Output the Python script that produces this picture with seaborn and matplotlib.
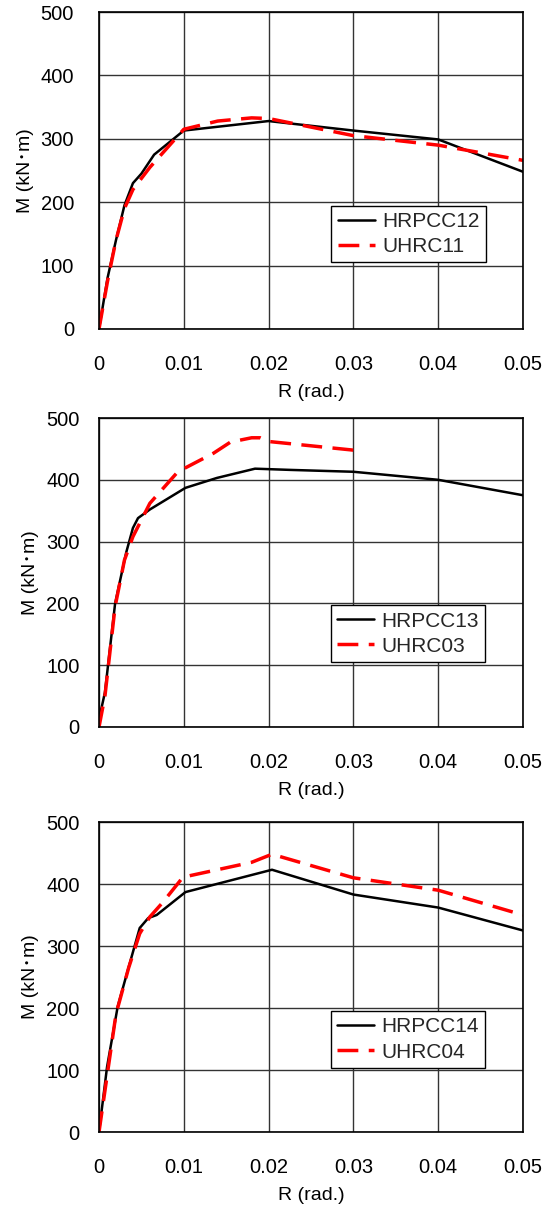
import matplotlib
matplotlib.use("Agg")
import matplotlib.pyplot as plt
import seaborn as sns
import pandas as pd

sns.set_theme(style="white")
plt.rcParams['font.family'] = ['Liberation Sans', 'Noto Sans CJK JP', 'DejaVu Sans']

# Panel 1
r_hrpcc12 = [0, 0.001, 0.002, 0.003, 0.004, 0.005, 0.0065, 0.01, 0.02, 0.03, 0.04, 0.05]
m_hrpcc12 = [0, 80, 140, 195, 230, 245, 275, 313, 328, 313, 299, 248]
r_uhrc11 = [0, 0.001, 0.002, 0.003, 0.004, 0.006, 0.008, 0.01, 0.014, 0.018, 0.02, 0.03, 0.04, 0.05]
m_uhrc11 = [0, 75, 140, 190, 220, 255, 285, 315, 328, 333, 332, 305, 290, 266]

# Panel 2
r_hrpcc13 = [0, 0, 0.0007, 0.0019, 0.0032, 0.004, 0.0046, 0.006, 0.0102, 0.0139, 0.0163, 0.0184, 0.0226, 0.03, 0.04, 0.05]
m_hrpcc13 = [0, 25, 56, 200, 282, 322, 338, 352, 387, 403, 411, 418, 416, 413, 400, 375]
r_uhrc03 = [0, 0.0007, 0.0019, 0.003, 0.004, 0.006, 0.0093, 0.0135, 0.0155, 0.018, 0.019, 0.02, 0.03]
m_uhrc03 = [0, 50, 195, 270, 308, 362, 413, 443, 461, 468, 468, 462, 448]

# Panel 3
r_hrpcc14 = [0, 0.00095, 0.0022, 0.0034, 0.0048, 0.0058, 0.0068, 0.0102, 0.0204, 0.03, 0.04, 0.05]
m_hrpcc14 = [0, 105, 202, 261, 329, 345, 350, 387, 423, 383, 362, 325]
r_uhrc04 = [0, 0.001, 0.002, 0.0035, 0.0048, 0.006, 0.0075, 0.0099, 0.018, 0.0204, 0.03, 0.04, 0.05]
m_uhrc04 = [0, 95, 190, 265, 320, 347, 370, 411, 435, 448, 410, 390, 350]

panels = [
    ("HRPCC12", r_hrpcc12, m_hrpcc12, "UHRC11", r_uhrc11, m_uhrc11),
    ("HRPCC13", r_hrpcc13, m_hrpcc13, "UHRC03", r_uhrc03, m_uhrc03),
    ("HRPCC14", r_hrpcc14, m_hrpcc14, "UHRC04", r_uhrc04, m_uhrc04),
]

x_ticks = [0, 0.01, 0.02, 0.03, 0.04, 0.05]
x_labels = ["0", "0.01", "0.02", "0.03", "0.04", "0.05"]
y_ticks = [0, 100, 200, 300, 400, 500]
y_labels = ["0", "100", "200", "300", "400", "500"]

W, H = 550, 1211
fig = plt.figure(figsize=(W / 100, H / 100), dpi=100)
boxes = [(12, 329), (418, 727), (822, 1132)]
ypads = [18, 14, 14]
legend_anchor = [(0.548, 0.389), (0.546, 0.394), (0.546, 0.39)]

for (n1, r1, m1, n2, r2, m2), (top, bot), ypad, la in zip(panels, boxes, ypads, legend_anchor):
    ax = fig.add_axes((99 / W, 1 - bot / H, 424 / W, (bot - top) / H))
    sns.lineplot(x=r1, y=m1, ax=ax, color="black", linewidth=1.8, label=n1, sort=False)
    sns.lineplot(x=r2, y=m2, ax=ax, color="#ff0000", linewidth=2.5, label=n2, sort=False)
    ax.lines[1].set_dashes([6, 3])
    ax.set_xlim(0, 0.05)
    ax.set_ylim(0, 500)
    ax.set_xticks(x_ticks)
    ax.set_xticklabels(x_labels)
    ax.set_yticks(y_ticks)
    ax.set_yticklabels(y_labels)
    ax.grid(True, color="#333333", linewidth=1)
    ax.set_axisbelow(True)
    for s in ax.spines.values():
        s.set_color("black")
        s.set_linewidth(1.2)
    ax.tick_params(axis="both", length=0, labelsize=14.5, colors="black")
    ax.tick_params(axis="x", pad=19)
    ax.tick_params(axis="y", pad=ypad)
    ax.set_xlabel("R (rad.)", fontsize=14, color="black", labelpad=7)
    ax.set_ylabel("M (kN･m)", fontsize=14, color="black", labelpad=5)
    leg = ax.legend(loc="upper left", bbox_to_anchor=la, fontsize=15,
                    frameon=True, fancybox=False, edgecolor="black",
                    handlelength=1.8, handletextpad=0.35, borderpad=0.3,
                    labelspacing=0.3, borderaxespad=0)
    leg.get_frame().set_linewidth(1.0)
    leg.get_frame().set_facecolor("white")
    leg.get_frame().set_alpha(1)

fig.savefig("out.png", dpi=100)
